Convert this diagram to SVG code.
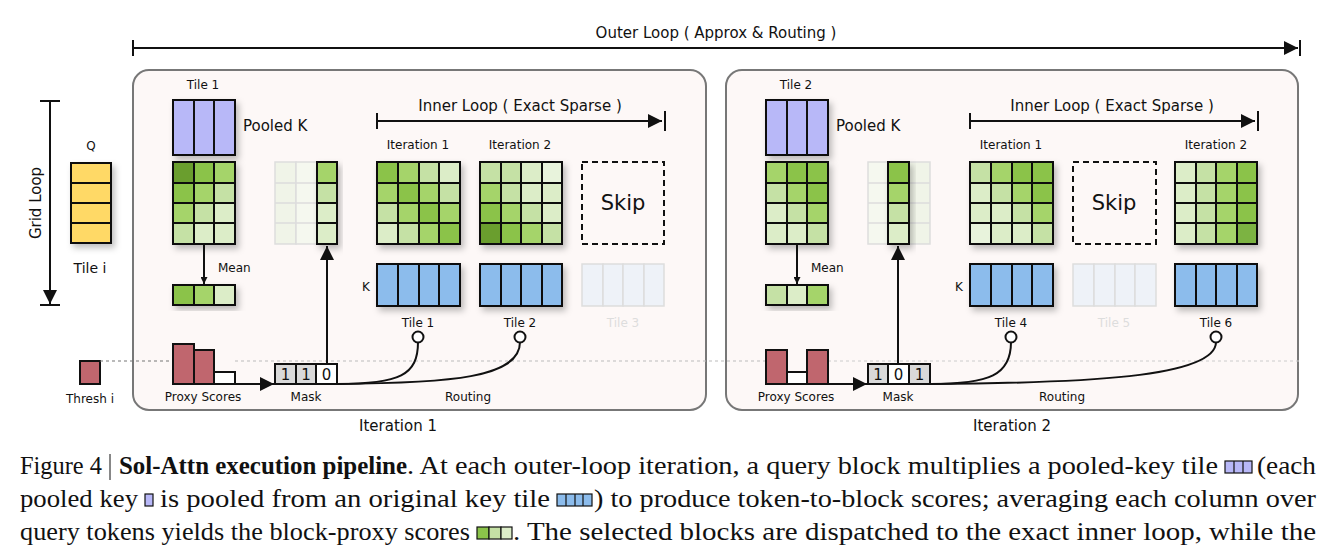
<svg xmlns="http://www.w3.org/2000/svg" width="1336" height="557" viewBox="0 0 1336 557">
<defs>
<style>
.t{font-family:"DejaVu Sans",sans-serif;fill:#111}
.s{font-size:12px}.m{font-size:15px}
.c{font-family:"Liberation Serif","Times New Roman",serif;font-size:26px;fill:#111}
.g{stroke:#111;stroke-width:2}
.ln{stroke:#111;stroke-width:2;fill:none}
.fade{stroke:#ddd;stroke-width:1.5}
.panel{fill:#FDF8F7;stroke:#777;stroke-width:2}
</style>
<filter id="sh" x="-20%" y="-20%" width="150%" height="150%"><feDropShadow dx="3" dy="4" stdDeviation="3" flood-color="#000" flood-opacity="0.25"/></filter>
<marker id="ar" viewBox="0 0 10 10" refX="10" refY="5" markerWidth="7" markerHeight="7" orient="auto-start-reverse" markerUnits="userSpaceOnUse"><path d="M0,0L10,5L0,10z" fill="#111"/></marker>
<marker id="ab" viewBox="0 0 10 10" refX="10" refY="5" markerWidth="14" markerHeight="14" orient="auto" markerUnits="userSpaceOnUse"><path d="M0,0L10,5L0,10z" fill="#111"/></marker>
</defs>
<rect width="1336" height="557" fill="#fff"/>

<g id="outer-loop">
<text class="t m" x="716" y="38" text-anchor="middle">Outer Loop ( Approx &amp; Routing )</text>
<line class="ln" x1="133" y1="48" x2="1298" y2="48" marker-end="url(#ab)"/>
<line class="ln" x1="133" y1="40" x2="133" y2="56"/><line class="ln" x1="1300" y1="40" x2="1300" y2="56"/>
</g>

<g id="grid-loop">
<line class="ln" x1="50" y1="101" x2="50" y2="304" marker-end="url(#ab)"/>
<line class="ln" x1="40" y1="101" x2="60" y2="101"/><line class="ln" x1="40" y1="305" x2="60" y2="305"/>
<text class="t m" transform="translate(41,203) rotate(-90)" text-anchor="middle">Grid Loop</text>
</g>

<g id="q">
<text class="t s" x="91" y="150" text-anchor="middle" font-size="13">Q</text>
<g filter="url(#sh)"><rect x="71" y="163" width="40" height="80" fill="#FFD966" class="g"/>
<line class="g" x1="71" y1="183" x2="111" y2="183"/><line class="g" x1="71" y1="203" x2="111" y2="203"/><line class="g" x1="71" y1="223" x2="111" y2="223"/></g>
<text class="t" font-size="14" x="90" y="273" text-anchor="middle">Tile i</text>
</g>

<g id="thresh">
<rect x="80" y="361" width="20" height="23" fill="#C0666E" class="g"/>
<text class="t s" x="90" y="403" text-anchor="middle">Thresh i</text>
</g>

<g id="panel1">
<rect class="panel" x="133" y="70" width="573" height="340" rx="16"/>
<text class="t m" x="398" y="431" text-anchor="middle">Iteration 1</text>
</g>
<g id="panel2">
<rect class="panel" x="726" y="70" width="572" height="340" rx="16"/>
<text class="t m" x="1012" y="431" text-anchor="middle">Iteration 2</text>
</g>

<g id="connectors">
<line x1="100" y1="361" x2="173" y2="361" stroke="#777" stroke-width="1.2" stroke-dasharray="3,3"/>
<line x1="235" y1="361" x2="766" y2="361" stroke="#bbb" stroke-width="1" stroke-dasharray="3,3"/>
<line x1="828" y1="361" x2="1300" y2="361" stroke="#ccc" stroke-width="1" stroke-dasharray="3,3"/>
</g>

<!-- Panel 1 content -->
<g id="p1-pooled">
<text class="t s" x="203" y="89" text-anchor="middle">Tile 1</text>
<g filter="url(#sh)"><rect x="173" y="100" width="62" height="55" fill="#B8B8F8" class="g"/></g>
<line class="g" x1="194" y1="100" x2="194" y2="155"/><line class="g" x1="214" y1="100" x2="214" y2="155"/>
<text class="t m" x="243" y="131">Pooled K</text>
</g>
<g id="p1-scores" filter="url(#sh)" class="g">
<rect x="173" y="162" width="21" height="21" fill="#6B9E2E"/><rect x="194" y="162" width="20" height="21" fill="#8BC34A"/><rect x="214" y="162" width="21" height="21" fill="#A5D46A"/>
<rect x="173" y="183" width="21" height="20" fill="#8BC34A"/><rect x="194" y="183" width="20" height="20" fill="#A5D46A"/><rect x="214" y="183" width="21" height="20" fill="#C5E1A5"/>
<rect x="173" y="203" width="21" height="20" fill="#A5D46A"/><rect x="194" y="203" width="20" height="20" fill="#C5E1A5"/><rect x="214" y="203" width="21" height="20" fill="#DCEDC8"/>
<rect x="173" y="223" width="21" height="21" fill="#C5E1A5"/><rect x="194" y="223" width="20" height="21" fill="#DCEDC8"/><rect x="214" y="223" width="21" height="21" fill="#DCEDC8"/>
</g>
<g id="p1-mean">
<line class="ln" x1="204" y1="245" x2="204" y2="284" marker-end="url(#ar)"/>
<text class="t s" x="218" y="272">Mean</text>
<g filter="url(#sh)" class="g"><rect x="173" y="285" width="21" height="20" fill="#8BC34A"/><rect x="194" y="285" width="20" height="20" fill="#A5D46A"/><rect x="214" y="285" width="21" height="20" fill="#DCEDC8"/></g>
</g>
<g id="p1-masked">
<g class="fade"><rect x="275" y="162" width="21" height="82" fill="#F0F4E8"/><rect x="296" y="162" width="21" height="82" fill="#F5F8EF"/>
<line x1="275" y1="183" x2="317" y2="183"/><line x1="275" y1="203" x2="317" y2="203"/><line x1="275" y1="223" x2="317" y2="223"/></g>
<g filter="url(#sh)" class="g"><rect x="317" y="162" width="20" height="21" fill="#A5D46A"/><rect x="317" y="183" width="20" height="20" fill="#C5E1A5"/><rect x="317" y="203" width="20" height="20" fill="#DCEDC8"/><rect x="317" y="223" width="20" height="21" fill="#DCEDC8"/></g>
<line class="ln" x1="327" y1="364" x2="327" y2="246" marker-end="url(#ab)"/>
</g>
<g id="p1-inner">
<text class="t m" x="520" y="111" text-anchor="middle">Inner Loop ( Exact Sparse )</text>
<line class="ln" x1="377" y1="121" x2="662" y2="121" marker-end="url(#ab)"/>
<line class="ln" x1="377" y1="113" x2="377" y2="129"/><line class="ln" x1="665" y1="111" x2="665" y2="131"/>
<text class="t s" x="418" y="149" text-anchor="middle">Iteration 1</text>
<text class="t s" x="520" y="149" text-anchor="middle">Iteration 2</text>
</g>
<g id="p1-it1" filter="url(#sh)" class="g">
<rect x="377" y="162" width="21" height="21" fill="#8BC34A"/><rect x="398" y="162" width="21" height="21" fill="#A5D46A"/><rect x="419" y="162" width="20" height="21" fill="#C5E1A5"/><rect x="439" y="162" width="21" height="21" fill="#DCEDC8"/>
<rect x="377" y="183" width="21" height="20" fill="#A5D46A"/><rect x="398" y="183" width="21" height="20" fill="#8BC34A"/><rect x="419" y="183" width="20" height="20" fill="#A5D46A"/><rect x="439" y="183" width="21" height="20" fill="#C5E1A5"/>
<rect x="377" y="203" width="21" height="20" fill="#C5E1A5"/><rect x="398" y="203" width="21" height="20" fill="#A5D46A"/><rect x="419" y="203" width="20" height="20" fill="#8BC34A"/><rect x="439" y="203" width="21" height="20" fill="#A5D46A"/>
<rect x="377" y="223" width="21" height="21" fill="#DCEDC8"/><rect x="398" y="223" width="21" height="21" fill="#C5E1A5"/><rect x="419" y="223" width="20" height="21" fill="#A5D46A"/><rect x="439" y="223" width="21" height="21" fill="#8BC34A"/>
</g>
<g id="p1-it2" filter="url(#sh)" class="g">
<rect x="480" y="162" width="21" height="21" fill="#C5E1A5"/><rect x="501" y="162" width="20" height="21" fill="#C5E1A5"/><rect x="521" y="162" width="21" height="21" fill="#DCEDC8"/><rect x="542" y="162" width="20" height="21" fill="#E8F3DC"/>
<rect x="480" y="183" width="21" height="20" fill="#A5D46A"/><rect x="501" y="183" width="20" height="20" fill="#C5E1A5"/><rect x="521" y="183" width="21" height="20" fill="#DCEDC8"/><rect x="542" y="183" width="20" height="20" fill="#DCEDC8"/>
<rect x="480" y="203" width="21" height="20" fill="#8BC34A"/><rect x="501" y="203" width="20" height="20" fill="#A5D46A"/><rect x="521" y="203" width="21" height="20" fill="#C5E1A5"/><rect x="542" y="203" width="20" height="20" fill="#DCEDC8"/>
<rect x="480" y="223" width="21" height="21" fill="#6B9E2E"/><rect x="501" y="223" width="20" height="21" fill="#8BC34A"/><rect x="521" y="223" width="21" height="21" fill="#A5D46A"/><rect x="542" y="223" width="20" height="21" fill="#C5E1A5"/>
</g>
<g id="p1-skip">
<rect x="582" y="162" width="82" height="82" fill="none" stroke="#111" stroke-width="2" stroke-dasharray="6,4"/>
<text class="t" font-size="21" x="623" y="210" text-anchor="middle">Skip</text>
</g>
<g id="p1-k">
<text class="t s" x="366" y="291" text-anchor="middle">K</text>
<g filter="url(#sh)" class="g"><rect x="377" y="264" width="21" height="42" fill="#8CBCEC"/><rect x="398" y="264" width="21" height="42" fill="#8CBCEC"/><rect x="419" y="264" width="20" height="42" fill="#8CBCEC"/><rect x="439" y="264" width="21" height="42" fill="#8CBCEC"/></g>
<g filter="url(#sh)" class="g"><rect x="480" y="264" width="21" height="42" fill="#8CBCEC"/><rect x="501" y="264" width="20" height="42" fill="#8CBCEC"/><rect x="521" y="264" width="21" height="42" fill="#8CBCEC"/><rect x="542" y="264" width="20" height="42" fill="#8CBCEC"/></g>
<g class="fade" fill="#EEF2F8"><rect x="582" y="264" width="21" height="42"/><rect x="603" y="264" width="20" height="42"/><rect x="623" y="264" width="21" height="42"/><rect x="644" y="264" width="20" height="42"/></g>
<text class="t s" x="418" y="327" text-anchor="middle">Tile 1</text>
<text class="t s" x="520" y="327" text-anchor="middle">Tile 2</text>
<text class="t s" x="623" y="327" text-anchor="middle" style="fill:#ddd">Tile 3</text>
</g>
<g id="p1-proxy">
<rect x="173" y="344" width="21" height="40" fill="#C0666E" class="g"/>
<rect x="194" y="350" width="20" height="34" fill="#C0666E" class="g"/>
<rect x="214" y="372" width="21" height="12" fill="#fff" class="g"/>
<line class="ln" x1="235" y1="384" x2="274" y2="384" marker-end="url(#ab)"/>
<text class="t s" x="203" y="401" text-anchor="middle">Proxy Scores</text>
</g>
<g id="p1-mask">
<rect x="275" y="364" width="21" height="20" fill="#D9D9D9" class="g"/><rect x="296" y="364" width="20" height="20" fill="#D9D9D9" class="g"/><rect x="316" y="364" width="21" height="20" fill="#fff" class="g"/>
<text class="t m" x="285.5" y="380" text-anchor="middle">1</text><text class="t m" x="306" y="380" text-anchor="middle">1</text><text class="t m" x="326.5" y="380" text-anchor="middle">0</text>
<text class="t s" x="306" y="401" text-anchor="middle">Mask</text>
</g>
<g id="p1-routing">
<path class="ln" d="M337,384 C400,384 418,375 418,342"/>
<path class="ln" d="M337,384 C450,383 520,378 520,342"/>
<circle cx="418" cy="337" r="5.5" fill="#fff" class="g"/><circle cx="520" cy="337" r="5.5" fill="#fff" class="g"/>
<text class="t s" x="468" y="401" text-anchor="middle">Routing</text>
</g>

<!-- Panel 2 content -->
<g id="p2-pooled">
<text class="t s" x="796" y="89" text-anchor="middle">Tile 2</text>
<g filter="url(#sh)"><rect x="766" y="100" width="62" height="55" fill="#B8B8F8" class="g"/></g>
<line class="g" x1="787" y1="100" x2="787" y2="155"/><line class="g" x1="807" y1="100" x2="807" y2="155"/>
<text class="t m" x="836" y="131">Pooled K</text>
</g>
<g id="p2-scores" filter="url(#sh)" class="g">
<rect x="766" y="162" width="21" height="21" fill="#A5D46A"/><rect x="787" y="162" width="20" height="21" fill="#8BC34A"/><rect x="807" y="162" width="21" height="21" fill="#8BC34A"/>
<rect x="766" y="183" width="21" height="20" fill="#C5E1A5"/><rect x="787" y="183" width="20" height="20" fill="#A5D46A"/><rect x="807" y="183" width="21" height="20" fill="#8BC34A"/>
<rect x="766" y="203" width="21" height="20" fill="#DCEDC8"/><rect x="787" y="203" width="20" height="20" fill="#C5E1A5"/><rect x="807" y="203" width="21" height="20" fill="#A5D46A"/>
<rect x="766" y="223" width="21" height="21" fill="#DCEDC8"/><rect x="787" y="223" width="20" height="21" fill="#DCEDC8"/><rect x="807" y="223" width="21" height="21" fill="#C5E1A5"/>
</g>
<g id="p2-mean">
<line class="ln" x1="797" y1="245" x2="797" y2="284" marker-end="url(#ar)"/>
<text class="t s" x="811" y="272">Mean</text>
<g filter="url(#sh)" class="g"><rect x="766" y="285" width="21" height="20" fill="#C5E1A5"/><rect x="787" y="285" width="20" height="20" fill="#DCEDC8"/><rect x="807" y="285" width="21" height="20" fill="#A5D46A"/></g>
</g>
<g id="p2-masked">
<g class="fade"><rect x="868" y="162" width="20" height="82" fill="#F5F8EF"/><rect x="909" y="162" width="21" height="82" fill="#F0F4E8"/>
<line x1="868" y1="183" x2="930" y2="183"/><line x1="868" y1="203" x2="930" y2="203"/><line x1="868" y1="223" x2="930" y2="223"/></g>
<g filter="url(#sh)" class="g"><rect x="888" y="162" width="21" height="21" fill="#8BC34A"/><rect x="888" y="183" width="21" height="20" fill="#A5D46A"/><rect x="888" y="203" width="21" height="20" fill="#C5E1A5"/><rect x="888" y="223" width="21" height="21" fill="#DCEDC8"/></g>
<line class="ln" x1="898" y1="364" x2="898" y2="246" marker-end="url(#ab)"/>
</g>
<g id="p2-inner">
<text class="t m" x="1112" y="111" text-anchor="middle">Inner Loop ( Exact Sparse )</text>
<line class="ln" x1="970" y1="121" x2="1255" y2="121" marker-end="url(#ab)"/>
<line class="ln" x1="970" y1="113" x2="970" y2="129"/><line class="ln" x1="1258" y1="111" x2="1258" y2="131"/>
<text class="t s" x="1011" y="149" text-anchor="middle">Iteration 1</text>
<text class="t s" x="1216" y="149" text-anchor="middle">Iteration 2</text>
</g>
<g id="p2-it1" filter="url(#sh)" class="g">
<rect x="970" y="162" width="21" height="21" fill="#C5E1A5"/><rect x="991" y="162" width="21" height="21" fill="#A5D46A"/><rect x="1012" y="162" width="20" height="21" fill="#8BC34A"/><rect x="1032" y="162" width="21" height="21" fill="#8BC34A"/>
<rect x="970" y="183" width="21" height="20" fill="#DCEDC8"/><rect x="991" y="183" width="21" height="20" fill="#C5E1A5"/><rect x="1012" y="183" width="20" height="20" fill="#A5D46A"/><rect x="1032" y="183" width="21" height="20" fill="#8BC34A"/>
<rect x="970" y="203" width="21" height="20" fill="#DCEDC8"/><rect x="991" y="203" width="21" height="20" fill="#DCEDC8"/><rect x="1012" y="203" width="20" height="20" fill="#C5E1A5"/><rect x="1032" y="203" width="21" height="20" fill="#A5D46A"/>
<rect x="970" y="223" width="21" height="21" fill="#E8F3DC"/><rect x="991" y="223" width="21" height="21" fill="#DCEDC8"/><rect x="1012" y="223" width="20" height="21" fill="#DCEDC8"/><rect x="1032" y="223" width="21" height="21" fill="#C5E1A5"/>
</g>
<g id="p2-skip">
<rect x="1073" y="162" width="83" height="82" fill="none" stroke="#111" stroke-width="2" stroke-dasharray="6,4"/>
<text class="t" font-size="21" x="1114" y="210" text-anchor="middle">Skip</text>
</g>
<g id="p2-it2" filter="url(#sh)" class="g">
<rect x="1175" y="162" width="21" height="21" fill="#DCEDC8"/><rect x="1196" y="162" width="20" height="21" fill="#C5E1A5"/><rect x="1216" y="162" width="21" height="21" fill="#A5D46A"/><rect x="1237" y="162" width="20" height="21" fill="#8BC34A"/>
<rect x="1175" y="183" width="21" height="20" fill="#DCEDC8"/><rect x="1196" y="183" width="20" height="20" fill="#C5E1A5"/><rect x="1216" y="183" width="21" height="20" fill="#A5D46A"/><rect x="1237" y="183" width="20" height="20" fill="#8BC34A"/>
<rect x="1175" y="203" width="21" height="20" fill="#DCEDC8"/><rect x="1196" y="203" width="20" height="20" fill="#C5E1A5"/><rect x="1216" y="203" width="21" height="20" fill="#A5D46A"/><rect x="1237" y="203" width="20" height="20" fill="#8BC34A"/>
<rect x="1175" y="223" width="21" height="21" fill="#DCEDC8"/><rect x="1196" y="223" width="20" height="21" fill="#C5E1A5"/><rect x="1216" y="223" width="21" height="21" fill="#A5D46A"/><rect x="1237" y="223" width="20" height="21" fill="#7CB342"/>
</g>
<g id="p2-k">
<text class="t s" x="959" y="291" text-anchor="middle">K</text>
<g filter="url(#sh)" class="g"><rect x="970" y="264" width="21" height="42" fill="#8CBCEC"/><rect x="991" y="264" width="21" height="42" fill="#8CBCEC"/><rect x="1012" y="264" width="20" height="42" fill="#8CBCEC"/><rect x="1032" y="264" width="21" height="42" fill="#8CBCEC"/></g>
<g class="fade" fill="#EEF2F8"><rect x="1073" y="264" width="21" height="42"/><rect x="1094" y="264" width="21" height="42"/><rect x="1115" y="264" width="20" height="42"/><rect x="1135" y="264" width="21" height="42"/></g>
<g filter="url(#sh)" class="g"><rect x="1175" y="264" width="21" height="42" fill="#8CBCEC"/><rect x="1196" y="264" width="20" height="42" fill="#8CBCEC"/><rect x="1216" y="264" width="21" height="42" fill="#8CBCEC"/><rect x="1237" y="264" width="20" height="42" fill="#8CBCEC"/></g>
<text class="t s" x="1011" y="327" text-anchor="middle">Tile 4</text>
<text class="t s" x="1114" y="327" text-anchor="middle" style="fill:#ddd">Tile 5</text>
<text class="t s" x="1216" y="327" text-anchor="middle">Tile 6</text>
</g>
<g id="p2-proxy">
<rect x="766" y="350" width="21" height="34" fill="#C0666E" class="g"/>
<rect x="787" y="372" width="20" height="12" fill="#fff" class="g"/>
<rect x="807" y="350" width="21" height="34" fill="#C0666E" class="g"/>
<line class="ln" x1="828" y1="384" x2="867" y2="384" marker-end="url(#ab)"/>
<text class="t s" x="796" y="401" text-anchor="middle">Proxy Scores</text>
</g>
<g id="p2-mask">
<rect x="868" y="364" width="20" height="20" fill="#D9D9D9" class="g"/><rect x="888" y="364" width="21" height="20" fill="#fff" class="g"/><rect x="909" y="364" width="21" height="20" fill="#D9D9D9" class="g"/>
<text class="t m" x="878" y="380" text-anchor="middle">1</text><text class="t m" x="898.5" y="380" text-anchor="middle">0</text><text class="t m" x="919.5" y="380" text-anchor="middle">1</text>
<text class="t s" x="898" y="401" text-anchor="middle">Mask</text>
</g>
<g id="p2-routing">
<path class="ln" d="M930,384 C990,384 1011,375 1011,342"/>
<path class="ln" d="M930,384 C1080,383 1216,378 1216,342"/>
<circle cx="1011" cy="337" r="5.5" fill="#fff" class="g"/><circle cx="1216" cy="337" r="5.5" fill="#fff" class="g"/>
<text class="t s" x="1062" y="401" text-anchor="middle">Routing</text>
</g>

<g id="caption">
<text class="c" x="20" y="474" textLength="82" lengthAdjust="spacingAndGlyphs">Figure 4</text>
<line x1="110" y1="454" x2="110" y2="480" stroke="#111" stroke-width="1"/>
<text class="c" x="119" y="474" font-weight="bold" textLength="288" lengthAdjust="spacingAndGlyphs">Sol-Attn execution pipeline</text>
<text class="c" x="407" y="474" textLength="811" lengthAdjust="spacingAndGlyphs">. At each outer-loop iteration, a query block multiplies a pooled-key tile</text>
<g stroke="#111" stroke-width="1.2"><rect x="1225" y="461" width="27" height="12" fill="#B8B8F8"/><line x1="1234" y1="461" x2="1234" y2="473"/><line x1="1243" y1="461" x2="1243" y2="473"/></g>
<text class="c" x="1257" y="474" textLength="59" lengthAdjust="spacingAndGlyphs">(each</text>

<text class="c" x="20" y="507" textLength="118" lengthAdjust="spacingAndGlyphs">pooled key</text>
<rect x="145" y="494" width="8" height="12" fill="#B8B8F8" stroke="#111" stroke-width="1.2"/>
<text class="c" x="160" y="507" textLength="390" lengthAdjust="spacingAndGlyphs">is pooled from an original key tile</text>
<g stroke="#111" stroke-width="1.2"><rect x="557" y="494" width="35" height="12" fill="#8CBCEC"/><line x1="566" y1="494" x2="566" y2="506"/><line x1="575" y1="494" x2="575" y2="506"/><line x1="583" y1="494" x2="583" y2="506"/></g>
<text class="c" x="594" y="507" textLength="722" lengthAdjust="spacingAndGlyphs">) to produce token-to-block scores; averaging each column over</text>

<text class="c" x="20" y="540" textLength="450" lengthAdjust="spacingAndGlyphs">query tokens yields the block-proxy scores</text>
<g stroke="#111" stroke-width="1.2"><rect x="477" y="527" width="12" height="12" fill="#8BC34A"/><rect x="489" y="527" width="12" height="12" fill="#C5E1A5"/><rect x="501" y="527" width="11" height="12" fill="#DCEDC8"/></g>
<text class="c" x="513" y="540" textLength="803" lengthAdjust="spacingAndGlyphs">. The selected blocks are dispatched to the exact inner loop, while the</text>
</g>
</svg>
